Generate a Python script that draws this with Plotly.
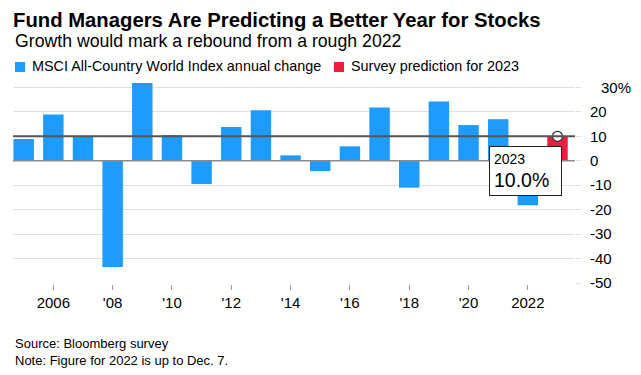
import plotly.graph_objects as go

# ---- data ----
years = list(range(2005, 2023))
annual_change = [8.9, 18.9, 9.7, -43.5, 31.8, 10.5, -9.5, 13.8, 20.7, 2.2,
                 -4.2, 5.9, 21.8, -11.0, 24.2, 14.6, 17.0, -18.2]
pred_year = [2023]
pred_value = [10.0]

x_tickvals = [2006, 2008, 2010, 2012, 2014, 2016, 2018, 2020, 2022]
x_ticktext = ["2006", "'08", "'10", "'12", "'14", "'16", "'18", "'20", "2022"]
y_tickvals = [-50, -40, -30, -20, -10, 0, 10, 20, 30]
y_ticktext = ["-50", "-40", "-30", "-20", "-10", "0", "10", "20", ""]

BLUE = "#1E9BFF"
RED = "#E8203F"
FONT = "Liberation Sans, Arial, Helvetica, sans-serif"

# the page body has an 8px default margin; work in window pixel coordinates
OFF = 8
W, H = 641 - OFF, 375 - OFF
PL, PR, PT, PB = 13, 575, 81, 283          # plot area in window pixels
ML, MR, MT, MB = PL - OFF, W - (PR - OFF), PT - OFF, H - (PB - OFF)
PW, PH = W - ML - MR, H - MT - MB
UNIT = 2.445


def px(x):
    return (x - PL) / PW


def py(y):
    return (PB - y) / PH


fig = go.Figure()
fig.add_trace(go.Bar(x=years, y=annual_change, marker_color=BLUE, width=0.69,
                     marker_line_width=0, name="MSCI All-Country World Index annual change",
                     showlegend=False))
fig.add_trace(go.Bar(x=pred_year, y=pred_value, marker_color=RED, width=0.69,
                     marker_line_width=0, name="Survey prediction for 2023", showlegend=False))

# reference line at prediction level and zero line
fig.add_shape(type="line", xref="paper", x0=0, x1=1, yref="y", y0=pred_value[0], y1=pred_value[0],
              line=dict(color="#555555", width=2), layer="above")
fig.add_shape(type="line", xref="paper", x0=0, x1=1, yref="y", y0=0, y1=0,
              line=dict(color="#8a8a8a", width=1.5), layer="above")

fig.add_trace(go.Scatter(x=pred_year, y=pred_value, mode="markers", showlegend=False,
                         marker=dict(size=10, color="white", line=dict(color="#333333", width=1.2)),
                         cliponaxis=False))

ann = []
ann.append(dict(text="<b>Fund Managers Are Predicting a Better Year for Stocks</b>",
                x=px(12), y=py(OFF), xref="paper", yref="paper", xanchor="left", yanchor="top",
                borderpad=0, showarrow=False, font=dict(family=FONT, size=20.3, color="#000000")))
ann.append(dict(text="Growth would mark a rebound from a rough 2022",
                x=px(13), y=py(29), xref="paper", yref="paper", xanchor="left", yanchor="top",
                showarrow=False, font=dict(family=FONT, size=17.7, color="#000000")))
ann.append(dict(text="MSCI All-Country World Index annual change",
                x=px(30), y=py(56), xref="paper", yref="paper", xanchor="left", yanchor="top",
                showarrow=False, font=dict(family=FONT, size=14.4, color="#000000")))
ann.append(dict(text="Survey prediction for 2023",
                x=px(349), y=py(56), xref="paper", yref="paper", xanchor="left", yanchor="top",
                showarrow=False, font=dict(family=FONT, size=14.4, color="#000000")))
ann.append(dict(text="30%", x=px(599), y=30, xref="paper", yref="y", xanchor="left",
                yanchor="middle", showarrow=False, font=dict(family=FONT, size=15, color="#000000")))
ann.append(dict(text="<span style='font-size:14px'>%d</span><br><span style='font-size:19.5px'>%.1f%%</span>"
                % (pred_year[0], pred_value[0]),
                x=pred_year[0] + 0.15, y=6.2, xref="x", yref="y", xanchor="right", yanchor="top",
                align="left", width=63, showarrow=False, bgcolor="white", bordercolor="#222222",
                borderwidth=1, borderpad=4, font=dict(family=FONT, size=17.5, color="#000000")))
ann.append(dict(text="Source: Bloomberg survey<br>Note: Figure for 2022 is up to Dec. 7.",
                x=px(13), y=py(334), xref="paper", yref="paper", xanchor="left", yanchor="top",
                align="left", showarrow=False, font=dict(family=FONT, size=13, color="#000000")))

for a in ann:
    fig.add_annotation(**a)

# legend swatches
fig.add_shape(type="rect", xref="paper", yref="paper", x0=px(15), x1=px(25), y0=py(62), y1=py(72),
              fillcolor=BLUE, line_width=0)
fig.add_shape(type="rect", xref="paper", yref="paper", x0=px(334), x1=px(344), y0=py(62), y1=py(72),
              fillcolor=RED, line_width=0)

fig.update_layout(
    width=W, height=H, margin=dict(l=ML, r=MR, t=MT, b=MB, autoexpand=False),
    paper_bgcolor="white", plot_bgcolor="white", barmode="overlay",
    font=dict(family=FONT, size=15, color="#000000"),
    xaxis=dict(range=[2004.64, 2023.59], tickvals=x_tickvals, ticktext=x_ticktext,
               ticks="outside", ticklen=5, tickcolor="#999999", tickwidth=1,
               showgrid=False, zeroline=False, showline=True, linecolor="white", linewidth=2,
               tickfont=dict(size=15)),
    yaxis=dict(side="right", range=[-50, -50 + PH / UNIT], tickvals=y_tickvals,
               ticktext=y_ticktext, ticks="outside", ticklen=5, tickcolor="#e0e0e0",
               showgrid=True, gridcolor="#e0e0e0", gridwidth=1, zeroline=False,
               ticklabelstandoff=6, tickfont=dict(size=15)),
)

fig.write_html("out.html")
